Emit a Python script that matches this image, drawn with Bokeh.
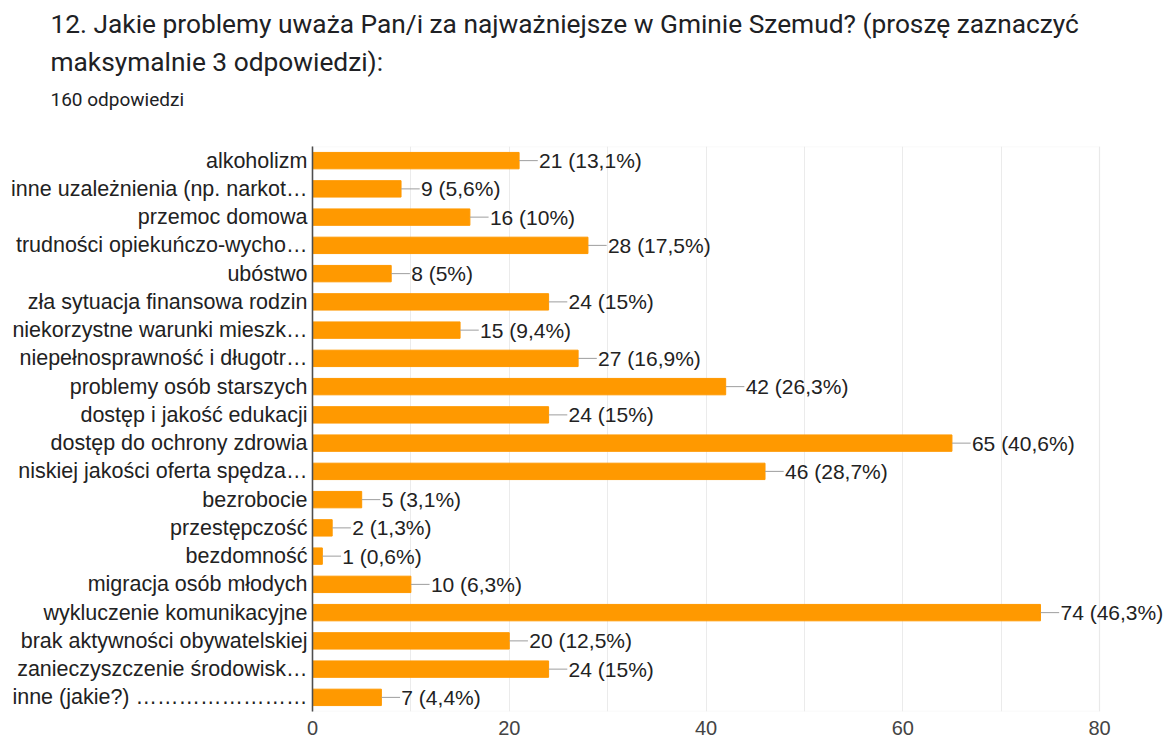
from bokeh.plotting import figure
from bokeh.models import ColumnDataSource, FactorRange, Range1d, FixedTicker, Title, LabelSet, BoxAnnotation
from bokeh.transform import dodge
from bokeh.core.properties import value
from bokeh.embed import file_html
from bokeh.resources import INLINE

categories = [
    "alkoholizm",
    "inne uzależnienia (np. narkot…",
    "przemoc domowa",
    "trudności opiekuńczo-wycho…",
    "ubóstwo",
    "zła sytuacja finansowa rodzin",
    "niekorzystne warunki mieszk…",
    "niepełnosprawność i długotr…",
    "problemy osób starszych",
    "dostęp i jakość edukacji",
    "dostęp do ochrony zdrowia",
    "niskiej jakości oferta spędza…",
    "bezrobocie",
    "przestępczość",
    "bezdomność",
    "migracja osób młodych",
    "wykluczenie komunikacyjne",
    "brak aktywności obywatelskiej",
    "zanieczyszczenie środowisk…",
    "inne (jakie?) ……………………",
]
counts = [21, 9, 16, 28, 8, 24, 15, 27, 42, 24, 65, 46, 5, 2, 1, 10, 74, 20, 24, 7]
percents = ["13,1%", "5,6%", "10%", "17,5%", "5%", "15%", "9,4%", "16,9%", "26,3%", "15%",
            "40,6%", "28,7%", "3,1%", "1,3%", "0,6%", "6,3%", "46,3%", "12,5%", "15%", "4,4%"]
x_ticks = [0, 20, 40, 60, 80]
x_minor = [10, 30, 50, 70]
axis_max = 80

labels = [f"{c} ({p})" for c, p in zip(counts, percents)]
src = ColumnDataSource(dict(cat=categories, v=counts, lab=labels))

# frame runs to the right edge so value labels are not clipped; the chart box ends at axis_max
frame_left, box_right, canvas_w = 312, 1099, 1166
x_end = axis_max * (canvas_w - frame_left) / (box_right - frame_left)

p = figure(width=canvas_w, height=744, output_backend="svg", toolbar_location=None,
           y_range=FactorRange(*list(reversed(categories)), range_padding=0),
           x_range=Range1d(0, x_end),
           min_border_left=frame_left, min_border_right=0, min_border_top=146,
           min_border_bottom=33)

# spacer between subtitle and plot frame
p.add_layout(Title(text=" ", text_font="Roboto", text_font_size="10px",
                   align="left", standoff=16), "above")
p.add_layout(Title(text="160 odpowiedzi", text_font="Roboto", text_font_size="19px",
                   text_font_style="normal", text_color="#202124", align="left",
                   offset=-262, standoff=13), "above")
p.add_layout(Title(text="maksymalnie 3 odpowiedzi):", text_font="Roboto", text_font_size="26.3px",
                   text_font_style="normal", text_color="#202124", align="left",
                   offset=-262, standoff=5), "above")
p.add_layout(Title(text="12. Jakie problemy uważa Pan/i za najważniejsze w Gminie Szemud? (proszę zaznaczyć",
                   text_font="Roboto", text_font_size="26.3px",
                   text_font_style="normal", text_color="#202124", align="left",
                   offset=-262, standoff=7), "above")

p.add_layout(BoxAnnotation(left=0, right=axis_max, fill_alpha=0,
                           line_color="#e3e3e3", line_width=1.5))

p.hbar(y="cat", right="v", left=0, height=0.58, source=src, color="#ff9900")
p.segment(x0="v", y0="cat", x1=dodge("v", 1.9), y1="cat", source=src,
          line_color="#9e9e9e", line_width=1)
p.add_layout(LabelSet(x="v", y="cat", text="lab", source=src, x_offset=20,
                      text_baseline="middle", text_align="left",
                      text_font=value("Liberation Sans"), text_font_size=value("21px"),
                      text_color="#222222"))

p.xaxis.ticker = FixedTicker(ticks=x_ticks, minor_ticks=x_minor)
p.xaxis.axis_line_color = None
p.xaxis.major_tick_line_color = None
p.xaxis.minor_tick_line_color = None
p.xaxis.major_tick_out = 0
p.xaxis.minor_tick_out = 0
p.xaxis.major_label_text_font = "Liberation Sans"
p.xaxis.major_label_text_font_size = "20px"
p.xaxis.major_label_text_color = "#444444"
p.xaxis.major_label_standoff = 9

p.yaxis.axis_line_color = "#333333"
p.yaxis.axis_line_width = 1.5
p.yaxis.major_tick_line_color = None
p.yaxis.minor_tick_line_color = None
p.yaxis.major_tick_out = 0
p.yaxis.major_label_text_font = "Liberation Sans"
p.yaxis.major_label_text_font_size = "21.5px"
p.yaxis.major_label_text_color = "#222222"
p.yaxis.major_label_standoff = 5

p.xgrid.grid_line_color = "#ebebeb"
p.xgrid.minor_grid_line_color = "#ebebeb"
p.ygrid.grid_line_color = None
p.outline_line_color = None
p.background_fill_color = "white"
p.border_fill_color = "white"

open("out.html", "w").write(file_html(p, INLINE))
